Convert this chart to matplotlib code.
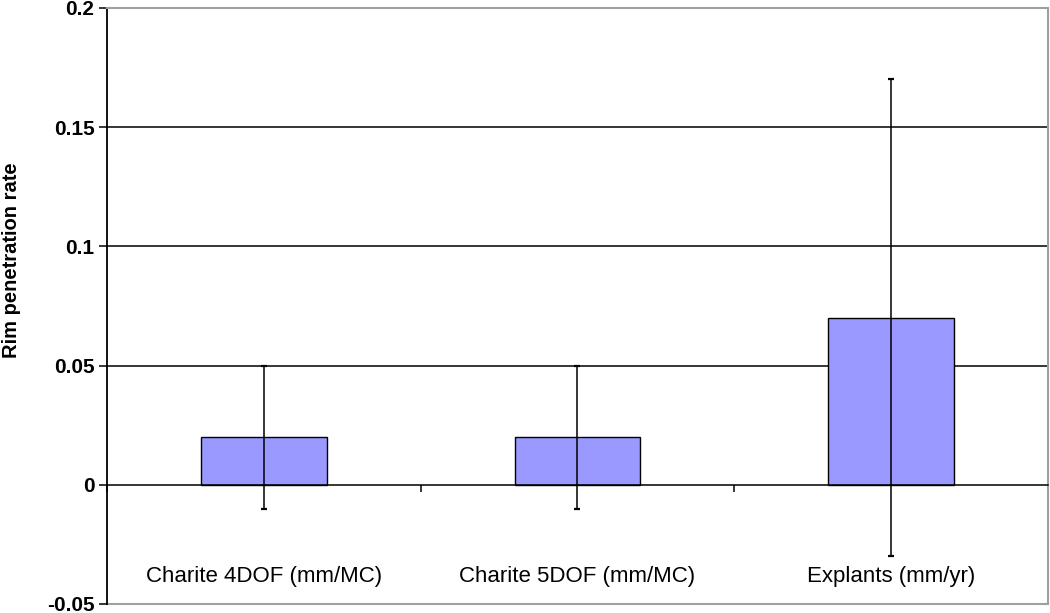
import matplotlib
matplotlib.use("Agg")
import matplotlib.pyplot as plt
import numpy as np

categories = ["Charite 4DOF (mm/MC)", "Charite 5DOF (mm/MC)", "Explants (mm/yr)"]
rates = [0.02, 0.02, 0.07]
errors = [0.03, 0.03, 0.10]
y_ticks = [-0.05, 0, 0.05, 0.1, 0.15, 0.2]
y_tick_labels = ["-0.05", "0", "0.05", "0.1", "0.15", "0.2"]

plt.rcParams["font.family"] = ["Liberation Sans", "DejaVu Sans"]

fig = plt.figure(figsize=(10.5, 6.13), dpi=100)
ax = fig.add_axes([0.1019, 0.0147, 0.8961, 0.9723])

x = np.arange(len(categories))

# gridlines behind bars
for t in y_ticks[2:-1]:
    ax.axhline(t, color="black", linewidth=1.1, zorder=1)

ax.bar(x, rates, width=0.4, color="#9999FF", edgecolor="black",
       linewidth=1.0, zorder=2)
ax.errorbar(x, rates, yerr=errors, fmt="none", ecolor="black",
            elinewidth=1.1, capsize=2.5, capthick=1.6, zorder=3)

ax.set_xlim(-0.5, 2.5)
ax.set_ylim(-0.05, 0.2)

# x axis sits at zero, ticks at category boundaries
ax.spines["bottom"].set_position(("data", 0))
ax.spines["bottom"].set_color("black")
ax.spines["bottom"].set_linewidth(1.1)
ax.set_xticks(np.arange(-0.5, 2.6, 1.0))
ax.set_xticklabels([])
ax.tick_params(axis="x", direction="out", length=5, width=1.1, color="black")

# gray plot-area border
for side in ("top", "right"):
    ax.spines[side].set_color("#A0A0A0")
    ax.spines[side].set_linewidth(1.5)
ax.axhline(-0.05, color="#A0A0A0", linewidth=1.5, clip_on=False, zorder=0)
ax.spines["left"].set_color("black")
ax.spines["left"].set_linewidth(1.3)

ax.set_yticks(y_ticks)
ax.set_yticklabels(y_tick_labels, fontsize=15, fontweight="bold")
ax.tick_params(axis="y", direction="out", length=6, width=1.1, pad=3)

ax.set_ylabel("Rim penetration rate", fontsize=14.5, fontweight="bold")
ax.yaxis.set_label_coords(-0.091, 0.577)

# category labels placed low in the plot area
for xi, name in zip(x, categories):
    ax.text(xi, -0.0385, name, ha="center", va="center", fontsize=16,
            color="black")

fig.savefig("out.png", dpi=100, facecolor="white")
